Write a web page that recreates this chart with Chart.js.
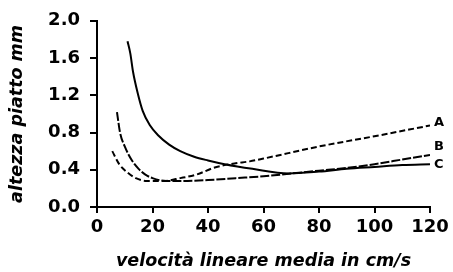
<!DOCTYPE html>
<html>
<head>
<meta charset="utf-8">
<script src="https://cdn.jsdelivr.net/npm/chart.js@4/dist/chart.umd.min.js"></script>
<style>
  html, body { margin: 0; padding: 0; background: #fff; }
  #wrap { width: 453px; height: 272px; }
</style>
</head>
<body>
<div id="wrap"><canvas id="plate"></canvas></div>
<script>
const xTicks = [0, 20, 40, 60, 80, 100, 120]
const yTicks = [0, 0.4, 0.8, 1.2, 1.6, 2.0]
const curveNames = ['A', 'B', 'C']

// velocità (cm/s) e altezza piatto (mm)
const velA = [5.5, 8, 11, 14, 18, 24, 30, 36, 42, 46, 50, 55, 60, 80, 100, 120]
const hA = [0.60, 0.46, 0.37, 0.31, 0.28, 0.28, 0.31, 0.35, 0.42, 0.45, 0.47, 0.49, 0.52, 0.65, 0.76, 0.875]

const velB = [7.2, 8.3, 10, 12.6, 15, 17.3, 20, 25, 30, 40, 50, 60, 70, 80, 90, 100, 110, 120]
const hB = [1.02, 0.80, 0.65, 0.50, 0.41, 0.35, 0.31, 0.28, 0.28, 0.29, 0.31, 0.33, 0.36, 0.39, 0.42, 0.46, 0.51, 0.56]

const velC = [11, 12, 13, 14.7, 16.5, 19, 22, 26, 30, 35, 40, 46, 56, 69, 80, 90, 100, 110, 120]
const hC = [1.78, 1.65, 1.45, 1.22, 1.03, 0.88, 0.77, 0.67, 0.60, 0.54, 0.50, 0.46, 0.41, 0.36, 0.38, 0.41, 0.43, 0.45, 0.46]

function pts (vs, hs) {
  return vs.map((v, i) => ({ x: v, y: hs[i] }))
}

const tickFont = { family: '"DejaVu Sans"', size: 18, weight: 'bold' }
const titleFont = { family: '"DejaVu Sans"', size: 17.5, weight: 'bold', style: 'italic' }

const endLabels = {
  id: 'endLabels',
  afterDatasetsDraw (chart) {
    const ctx = chart.ctx
    const dy = [-3, -8, 0]
    ctx.save()
    ctx.font = 'bold 13px "DejaVu Sans"'
    ctx.fillStyle = '#000'
    ctx.textBaseline = 'middle'
    chart.data.datasets.forEach((ds, i) => {
      const meta = chart.getDatasetMeta(i)
      const last = meta.data[meta.data.length - 1]
      ctx.fillText(curveNames[i], last.x + 4, last.y + dy[i])
    })
    ctx.restore()
  }
}

let plateChart = new Chart(document.getElementById('plate').getContext('2d'), {
  type: 'line',
  data: {
    datasets: [
      {
        label: curveNames[0],
        data: pts(velA, hA),
        borderColor: '#000',
        borderWidth: 2,
        borderDash: [6, 3],
        pointRadius: 0,
        cubicInterpolationMode: 'monotone'
      },
      {
        label: curveNames[1],
        data: pts(velB, hB),
        borderColor: '#000',
        borderWidth: 2,
        borderDash: [9, 2],
        pointRadius: 0,
        cubicInterpolationMode: 'monotone'
      },
      {
        label: curveNames[2],
        data: pts(velC, hC),
        borderColor: '#000',
        borderWidth: 2,
        pointRadius: 0,
        cubicInterpolationMode: 'monotone'
      }
    ]
  },
  options: {
    responsive: true,
    maintainAspectRatio: false,
    animation: false,
    layout: { padding: { top: 15, right: 23, left: 0, bottom: 0 } },
    plugins: {
      legend: { display: false },
      tooltip: { enabled: false }
    },
    scales: {
      x: {
        type: 'linear',
        min: 0,
        max: 120,
        afterBuildTicks: s => { s.ticks = xTicks.map(v => ({ value: v })) },
        afterFit: s => { s.height = 65 },
        ticks: { font: tickFont, color: '#000', padding: 4, maxRotation: 0 },
        grid: { drawOnChartArea: false, color: '#000', lineWidth: 2, tickLength: 6 },
        border: { color: '#000', width: 2 },
        title: {
          display: true,
          text: 'velocità lineare media in cm/s',
          font: titleFont,
          color: '#000',
          padding: { top: 0, bottom: 0 }
        }
      },
      y: {
        min: 0,
        max: 2,
        afterBuildTicks: s => { s.ticks = yTicks.map(v => ({ value: v })) },
        afterFit: s => { s.width = 97 },
        ticks: { font: tickFont, color: '#000', padding: 10, callback: v => v.toFixed(1) },
        grid: { drawOnChartArea: false, color: '#000', lineWidth: 2, tickLength: 7 },
        border: { color: '#000', width: 2 },
        title: {
          display: true,
          text: 'altezza piatto mm',
          font: titleFont,
          color: '#000',
          padding: { top: 7, bottom: 0 }
        }
      }
    }
  },
  plugins: [endLabels]
})
</script>
</body>
</html>
